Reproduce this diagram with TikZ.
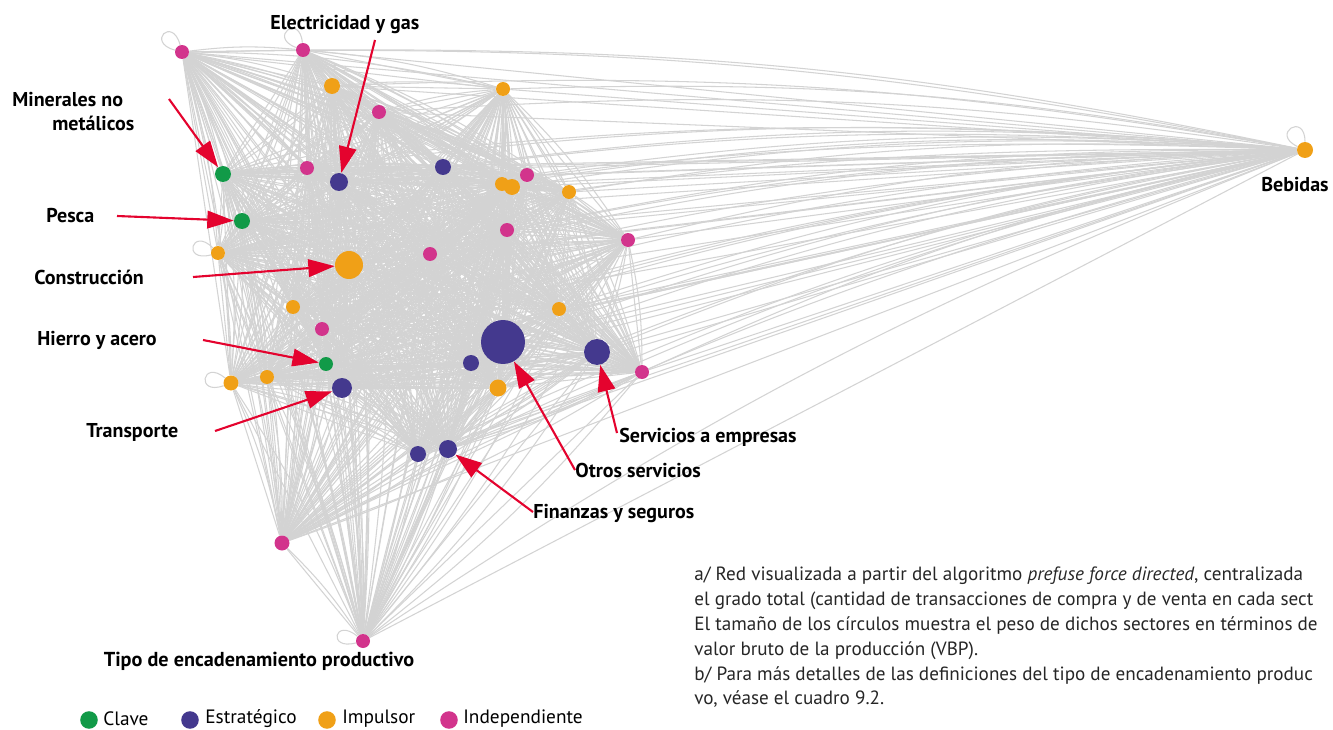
\documentclass[tikz,border=0pt]{standalone}
\usepackage{fontspec}
\setmainfont{PT Sans}
\usetikzlibrary{arrows.meta,positioning,backgrounds}

\definecolor{clave}{HTML}{119A48}
\definecolor{estrat}{HTML}{44398E}
\definecolor{impuls}{HTML}{F0A017}
\definecolor{indep}{HTML}{D2348C}
\definecolor{flecha}{HTML}{E4032E}
\definecolor{arista}{HTML}{D3D3D3}

\tikzset{
  sector/.style={circle,inner sep=0pt,fill=#1},
  edge/.style={draw=arista,line width=0.6pt},
  pointer/.style={draw=flecha,line width=1.2pt,-{Triangle[length=15pt,width=10pt]}},
  tag/.style={font=\fontsize{11.4}{13}\selectfont\bfseries,inner sep=0pt,anchor=west},
  legdot/.style={circle,inner sep=0pt,minimum size=10pt,fill=#1},
  legtext/.style={font=\fontsize{11}{13}\selectfont,inner sep=0pt,anchor=west}
}

\begin{document}
\begin{tikzpicture}[x=0.02cm,y=-0.02cm]
\useasboundingbox (0,0) rectangle (1333,730);
% sectores
\node[sector=indep,minimum size=14*0.2mm] (n1) at (182,52) {};
\node[sector=indep,minimum size=14*0.2mm] (n2) at (303,50) {};
\node[sector=impuls,minimum size=16*0.2mm] (n3) at (332,86) {};
\node[sector=indep,minimum size=14*0.2mm] (n4) at (379,112) {};
\node[sector=impuls,minimum size=14*0.2mm] (n5) at (503,89) {};
\node[sector=clave,minimum size=16*0.2mm] (n6) at (223,174) {};
\node[sector=indep,minimum size=14*0.2mm] (n7) at (307,168) {};
\node[sector=estrat,minimum size=18*0.2mm] (n8) at (339,182) {};
\node[sector=estrat,minimum size=16*0.2mm] (n9) at (443,167) {};
\node[sector=impuls,minimum size=14*0.2mm] (n10) at (502,184) {};
\node[sector=impuls,minimum size=16*0.2mm] (n11) at (512,187) {};
\node[sector=indep,minimum size=14*0.2mm] (n12) at (527,175) {};
\node[sector=impuls,minimum size=14*0.2mm] (n13) at (569,192) {};
\node[sector=indep,minimum size=14*0.2mm] (n14) at (507,230) {};
\node[sector=indep,minimum size=14*0.2mm] (n15) at (628,240) {};
\node[sector=clave,minimum size=16*0.2mm] (n16) at (242,221) {};
\node[sector=impuls,minimum size=14*0.2mm] (n17) at (218,253) {};
\node[sector=impuls,minimum size=28*0.2mm] (n18) at (349,265) {};
\node[sector=indep,minimum size=14*0.2mm] (n19) at (430,254) {};
\node[sector=impuls,minimum size=14*0.2mm] (n20) at (293,307) {};
\node[sector=indep,minimum size=14*0.2mm] (n21) at (322,329) {};
\node[sector=impuls,minimum size=14*0.2mm] (n22) at (559,309) {};
\node[sector=estrat,minimum size=44*0.2mm] (n23) at (503,342) {};
\node[sector=estrat,minimum size=26*0.2mm] (n24) at (597,352) {};
\node[sector=estrat,minimum size=16*0.2mm] (n25) at (471,363) {};
\node[sector=clave,minimum size=14*0.2mm] (n26) at (326,364) {};
\node[sector=estrat,minimum size=20*0.2mm] (n27) at (342,388) {};
\node[sector=impuls,minimum size=15*0.2mm] (n28) at (231,383) {};
\node[sector=impuls,minimum size=14*0.2mm] (n29) at (267,377) {};
\node[sector=impuls,minimum size=17*0.2mm] (n30) at (498,388) {};
\node[sector=indep,minimum size=14*0.2mm] (n31) at (642,372) {};
\node[sector=estrat,minimum size=16*0.2mm] (n32) at (418,454) {};
\node[sector=estrat,minimum size=18*0.2mm] (n33) at (448,449) {};
\node[sector=indep,minimum size=15*0.2mm] (n34) at (282,543) {};
\node[sector=indep,minimum size=14*0.2mm] (n35) at (363,641) {};
\node[sector=impuls,minimum size=16*0.2mm] (n36) at (1305,150) {};

% red de transacciones (compras y ventas)
\begin{scope}[on background layer]
\foreach \i in {1,...,35} {
  \pgfmathtruncatemacro\k{\i+1}
  \foreach \j in {\k,...,36} {
    \draw[edge] (n\i) -- (n\j);
    \draw[edge] (n\i) to[bend left=6] (n\j);
  }
}
\draw[edge] (n1) to[out=165,in=105,loop,min distance=6mm] (n1);
\draw[edge] (n2) to[out=160,in=95,loop,min distance=6mm] (n2);
\draw[edge] (n17) to[out=195,in=135,loop,min distance=6mm] (n17);
\draw[edge] (n28) to[out=200,in=140,loop,min distance=6mm] (n28);
\draw[edge] (n35) to[out=195,in=140,loop,min distance=6mm] (n35);
\draw[edge] (n36) to[out=155,in=90,loop,min distance=6mm] (n36);
\end{scope}

% etiquetas
\node[tag] (elec) at (270,25) {Electricidad y gas};
\node[tag] (mine) at (12,100) {Minerales no};
\node[tag] (meta) at (52,123) {metálicos};
\node[tag] (pesc) at (46,216) {Pesca};
\node[tag] (cons) at (34,277) {Construcción};
\node[tag] (hier) at (37,340) {Hierro y acero};
\node[tag] (tran) at (86,432) {Transporte};
\node[tag] (serv) at (619,437) {Servicios a empresas};
\node[tag] (otro) at (575,470) {Otros servicios};
\node[tag] (fina) at (533,513) {Finanzas y seguros};
\node[tag] (bebi) at (1261,185) {Bebidas};

\coordinate (t-elec) at (375,40);
\coordinate (t-mine) at (169,99);
\coordinate (t-pesc) at (117,216);
\coordinate (t-cons) at (193,277);
\coordinate (t-hier) at (203,340);
\coordinate (t-tran) at (215,431);
\coordinate (t-serv) at (617,433);
\coordinate (t-otro) at (575,470);
\coordinate (t-fina) at (533,512);

\draw[pointer] (t-elec) -- (n8);
\draw[pointer] (t-mine) -- (n6);
\draw[pointer] (t-pesc) -- (n16);
\draw[pointer] (t-cons) -- (n18);
\draw[pointer] (t-hier) -- (n26);
\draw[pointer] (t-tran) -- (n27);
\draw[pointer] (t-serv) -- (n24);
\draw[pointer] (t-otro) -- (n23);
\draw[pointer] (t-fina) -- (n33);

% leyenda
\node[font=\fontsize{11.5}{13}\selectfont\bfseries,inner sep=0pt] (ley) at (259,661) {Tipo de encadenamiento productivo};
\node[legdot=clave] (d1) at (89,720) {};
\node[legtext] (l1) at (103,719) {Clave};
\node[legdot=estrat] (d2) at (190,720) {};
\node[legtext] (l2) at (205,719) {Estratégico};
\node[legdot=impuls] (d3) at (327,720) {};
\node[legtext] (l3) at (342,719) {Impulsor};
\node[legdot=indep] (d4) at (449,720) {};
\node[legtext] (l4) at (463,719) {Independiente};

% notas
\node[anchor=north west,inner sep=0pt,align=left,text=black!85,
  font=\fontsize{10.9}{14.1}\selectfont] (nota) at (694,567)
  {a/ Red visualizada a partir del algoritmo \textit{prefuse force directed}, centralizada\\
   el grado total (cantidad de transacciones de compra y de venta en cada sect\\
   El tamaño de los círculos muestra el peso de dichos sectores en términos de\\
   valor bruto de la producción (VBP).\\
   b/ Para más detalles de las definiciones del tipo de encadenamiento produc\\
   vo, véase el cuadro 9.2.};
\end{tikzpicture}
\end{document}
